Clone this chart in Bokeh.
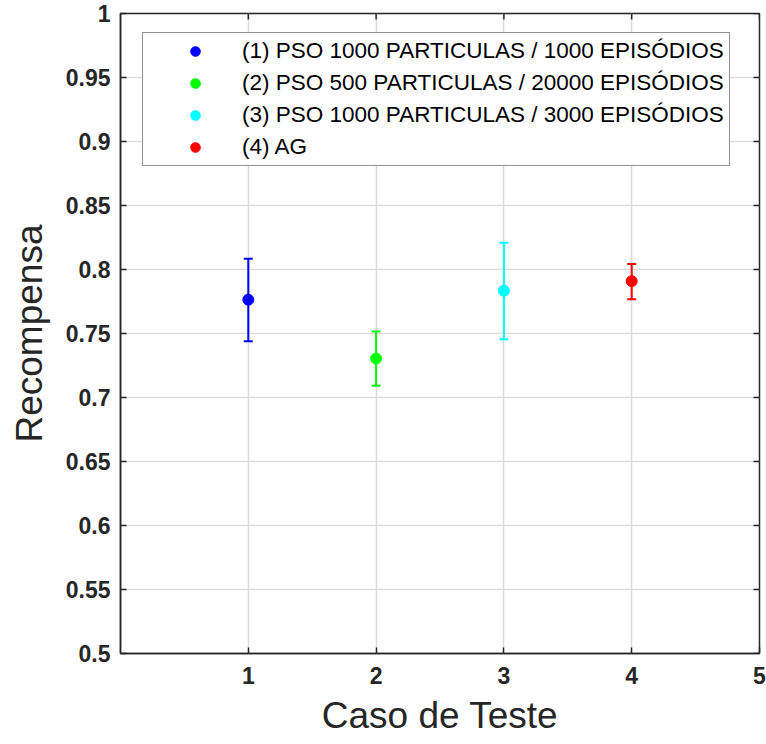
import math
from bokeh.plotting import figure
from bokeh.models import (Range1d, FixedTicker, Whisker, ColumnDataSource,
                          TeeHead, Legend, LegendItem)
from bokeh.embed import file_html
from bokeh.resources import INLINE

cases = [1, 2, 3, 4]
means = [0.7764, 0.7305, 0.7834, 0.7909]
upper = [0.8084, 0.7516, 0.8209, 0.8042]
lower = [0.7440, 0.7093, 0.7455, 0.7768]
series_labels = [
    "(1) PSO 1000 PARTICULAS / 1000 EPISÓDIOS",
    "(2) PSO 500 PARTICULAS / 20000 EPISÓDIOS",
    "(3) PSO 1000 PARTICULAS / 3000 EPISÓDIOS",
    "(4) AG",
]
colors = ["#0000ff", "#00ff00", "#00ffff", "#ff0000"]
xticks = [1, 2, 3, 4, 5]
yticks = [0.5, 0.55, 0.6, 0.65, 0.7, 0.75, 0.8, 0.85, 0.9, 0.95, 1.0]
ytick_labels = ["0.5", "0.55", "0.6", "0.65", "0.7", "0.75", "0.8", "0.85", "0.9", "0.95", "1"]
x_lim = (0, 5)
y_lim = (0.5, 1.0)

TXT = "#262626"
FONT = "Liberation Sans"

p = figure(width=766, height=744, x_range=Range1d(*x_lim), y_range=Range1d(*y_lim),
           output_backend="svg", toolbar_location=None,
           min_border_left=120, min_border_right=7, min_border_top=13, min_border_bottom=91)
p.background_fill_color = "white"
p.border_fill_color = "white"
p.outline_line_color = TXT
p.outline_line_width = 1.5

p.xaxis.ticker = FixedTicker(ticks=xticks)
p.yaxis.ticker = FixedTicker(ticks=yticks)
p.yaxis.major_label_overrides = {t: l for t, l in zip(yticks, ytick_labels)}
p.xaxis.axis_label = "Caso de Teste"
p.yaxis.axis_label = "Recompensa"
for ax in (p.xaxis[0], p.yaxis[0]):
    ax.axis_line_color = TXT
    ax.axis_line_width = 1.5
    ax.major_tick_line_color = TXT
    ax.major_tick_line_width = 1.5
    ax.major_tick_in = 6
    ax.major_tick_out = 0
    ax.minor_tick_line_color = None
    ax.major_label_text_font = FONT
    ax.major_label_text_font_size = "23px"
    ax.major_label_text_font_style = "bold"
    ax.major_label_text_color = TXT
    ax.axis_label_text_font = FONT
    ax.axis_label_text_font_size = "37px"
    ax.axis_label_text_font_style = "normal"
    ax.axis_label_text_color = TXT
p.xaxis.major_label_standoff = 13
p.xaxis.axis_label_standoff = 8
p.yaxis.major_label_standoff = 10
p.yaxis.axis_label_standoff = 13

p.xgrid.ticker = FixedTicker(ticks=xticks)
p.ygrid.ticker = FixedTicker(ticks=yticks)
p.grid.grid_line_color = "#dbdbdb"
p.grid.grid_line_width = 1.5

# inward ticks on the top and right edges of the box (clipped to the frame)
p.scatter(x=xticks, y=[y_lim[1]] * len(xticks), marker="dash", size=12, angle=math.pi / 2,
          line_color=TXT, line_width=1.5)
p.scatter(x=[x_lim[1]] * len(yticks), y=yticks, marker="dash", size=12,
          line_color=TXT, line_width=1.5)

items = []
for i in range(4):
    src = ColumnDataSource(dict(x=[cases[i]], y=[means[i]], up=[upper[i]], lo=[lower[i]]))
    w = Whisker(source=src, base="x", upper="up", lower="lo", line_color=colors[i], line_width=2,
                upper_head=TeeHead(size=9, line_color=colors[i], line_width=2),
                lower_head=TeeHead(size=9, line_color=colors[i], line_width=2))
    p.add_layout(w)
    r = p.scatter("x", "y", source=src, size=11, color=colors[i], marker="circle")
    items.append(LegendItem(label=series_labels[i], renderers=[r]))

legend = Legend(items=items, location=(22, 487))
legend.label_text_font = FONT
legend.label_text_font_size = "22.5px"
legend.label_text_font_style = "normal"
legend.label_text_color = "black"
legend.border_line_color = TXT
legend.border_line_width = 1.5
legend.background_fill_color = "white"
legend.background_fill_alpha = 1
legend.padding = 5
legend.spacing = 6
legend.margin = 0
legend.glyph_width = 94
legend.glyph_height = 24
legend.label_height = 24
legend.label_standoff = 0
p.add_layout(legend, "center")

open("out.html", "w").write(file_html(p, INLINE))
